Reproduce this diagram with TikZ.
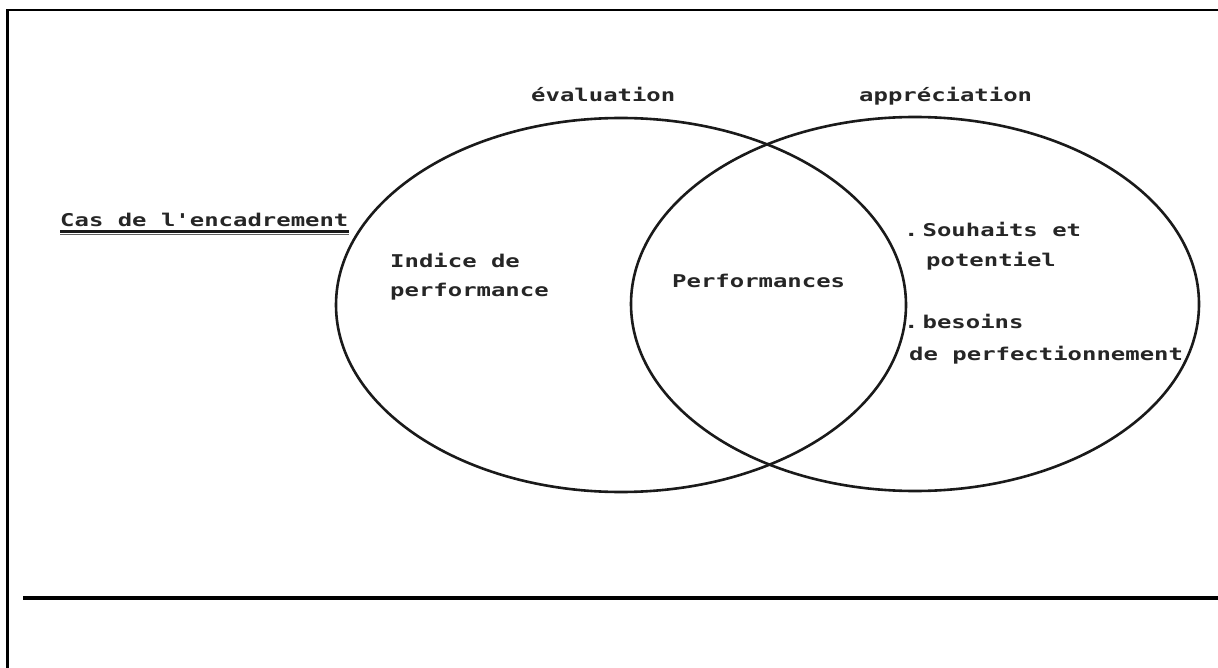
\documentclass[tikz,border=0pt]{standalone}
\usepackage{fontspec}
\newfontfamily\typew{DejaVu Sans Mono}[FakeStretch=1.36]
\definecolor{ink}{HTML}{1A1A1A}
\definecolor{txt}{HTML}{262626}
\tikzset{
  lbl/.style={anchor=base west, inner sep=0pt, text=txt,
    font=\typew\bfseries\fontsize{17.6}{20}\selectfont},
  setline/.style={draw=ink, line width=2.6pt},
  frameline/.style={draw=black, line width=2.4pt},
  ruleline/.style={draw=black, line width=4pt}
}
\begin{document}
\begin{tikzpicture}[x=1pt, y=-1pt]
\useasboundingbox (0,0) rectangle (1218,668);
\fill[white] (0,0) rectangle (1218,668);

% page frame (top and left edges) and the closing rule
\draw[frameline] (7.5,668) -- (7.5,10) -- (1218,10);
\coordinate (ruleL) at (23,598);
\coordinate (ruleR) at (1218,598);
\draw[ruleline] (ruleL) -- (ruleR);

% the two overlapping sets
\draw[setline] (621,305) ellipse [x radius=285pt, y radius=187pt];
\draw[setline] (915,304) ellipse [x radius=284pt, y radius=187pt];

% set titles
\node[lbl] (eval) at (531,102) {évaluation};
\node[lbl] (appr) at (859,102) {appréciation};

% case heading, underlined twice
\node[lbl] (cas) at (60,227) {Cas de l'encadrement};
\draw[ink, line width=2.2pt] (cas.base west |- 0,231.5) -- (cas.base east |- 0,231.5);
\draw[ink!70, line width=1.2pt] (cas.base west |- 0,234.5) -- (cas.base east |- 0,234.5);

% left region
\node[lbl] (ind1) at (390,268) {Indice de};
\node[lbl] (ind2) at (390,297) {performance};

% intersection
\node[lbl] (perf) at (672,288) {Performances};

% right region
\node[lbl] (sou1) at (904,237) {.\kern4pt Souhaits et};
\node[lbl] (sou2) at (926,267) {potentiel};
\node[lbl] (bes1) at (904,328) {.\kern4pt besoins};
\node[lbl] (bes2) at (909,360) {de perfectionnement};
\end{tikzpicture}
\end{document}
